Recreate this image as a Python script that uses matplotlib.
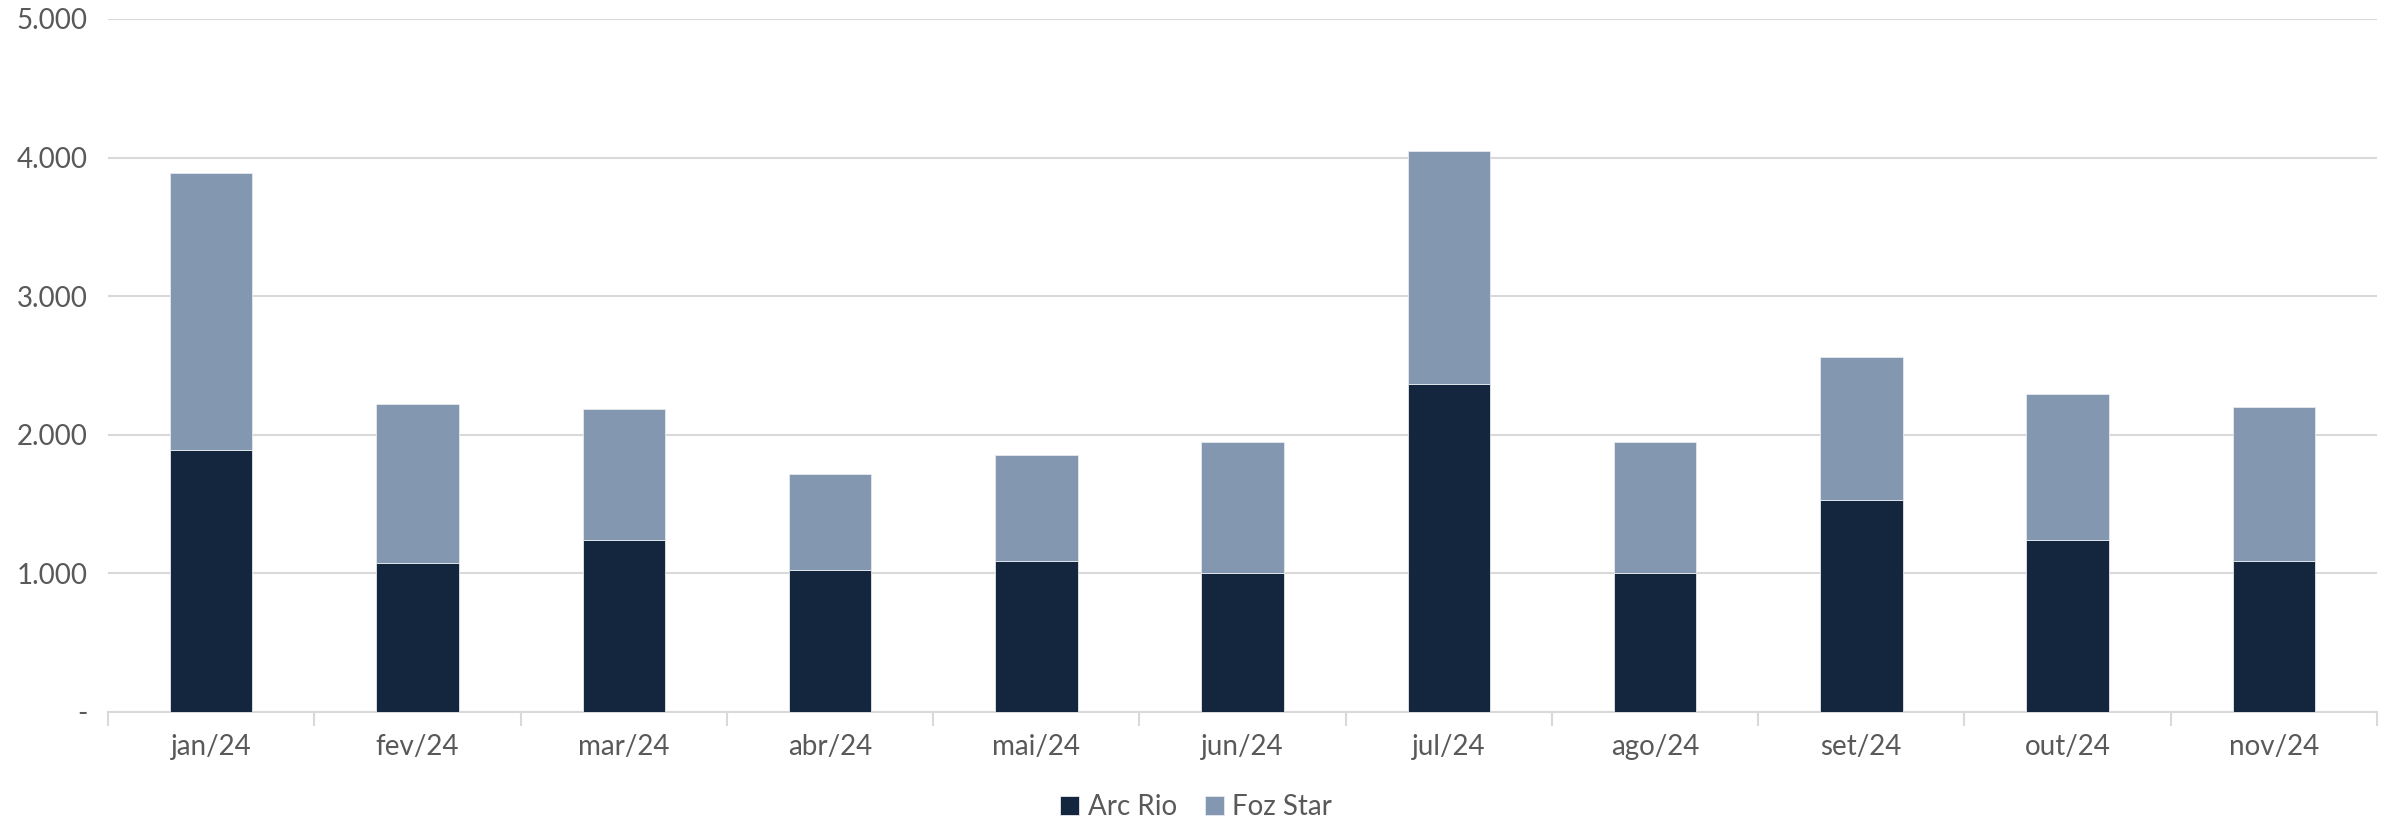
import matplotlib.pyplot as plt
import numpy as np
from matplotlib.ticker import FuncFormatter

meses = ["jan/24", "fev/24", "mar/24", "abr/24", "mai/24", "jun/24",
         "jul/24", "ago/24", "set/24", "out/24", "nov/24"]
arc_rio = [1890, 1077, 1242, 1022, 1088, 1000, 2363, 1000, 1527, 1242, 1088]
foz_star_total = [3890, 2220, 2187, 1714, 1857, 1945, 4044, 1945, 2560, 2297, 2198]
foz_star = [t - a for t, a in zip(foz_star_total, arc_rio)]

plt.rcParams['font.family'] = ['Lato', 'DejaVu Sans']
cor_texto = "#595959"

fig = plt.figure(figsize=(23.92, 8.23), dpi=100)
ax = fig.add_axes([0.0452, 0.1349, 0.9485, 0.8421])

x = np.arange(len(meses))
ax.bar(x, arc_rio, width=0.4, color="#14253E", edgecolor="#e6e9ee",
       linewidth=0.6, label="Arc Rio", zorder=3)
ax.bar(x, foz_star, width=0.4, bottom=arc_rio, color="#8497B0",
       edgecolor="#e6e9ee", linewidth=0.6, label="Foz Star", zorder=3)

ax.set_xlim(-0.5, len(meses) - 0.5)
ax.set_ylim(0, 5000)
ax.set_yticks(range(0, 5001, 1000))
ax.yaxis.set_major_formatter(FuncFormatter(
    lambda v, p: "-" if v == 0 else f"{int(v):,}".replace(",", ".")))
ax.grid(axis="y", color="#D9D9D9", linewidth=1.5, zorder=0)

ax.set_xticks(x)
ax.set_xticklabels(meses)
ax.set_xticks(np.arange(-0.5, len(meses)), minor=True)
ax.tick_params(axis="x", which="major", length=0, pad=16,
               labelsize=20, labelcolor=cor_texto)
ax.tick_params(axis="x", which="minor", length=10, width=1.5, color="#D9D9D9")
ax.tick_params(axis="y", length=0, pad=15, labelsize=20, labelcolor=cor_texto)

for s in ["top", "right", "left"]:
    ax.spines[s].set_visible(False)
ax.spines["bottom"].set_color("#D9D9D9")
ax.spines["bottom"].set_linewidth(1.5)

fig.legend(loc="center", bbox_to_anchor=(0.5, 16 / 823), ncol=2,
           frameon=False, fontsize=20, labelcolor=cor_texto,
           handlelength=0.7, handleheight=0.7, handletextpad=0.3,
           columnspacing=1.0, borderpad=0)

fig.savefig("out.png", dpi=100)
